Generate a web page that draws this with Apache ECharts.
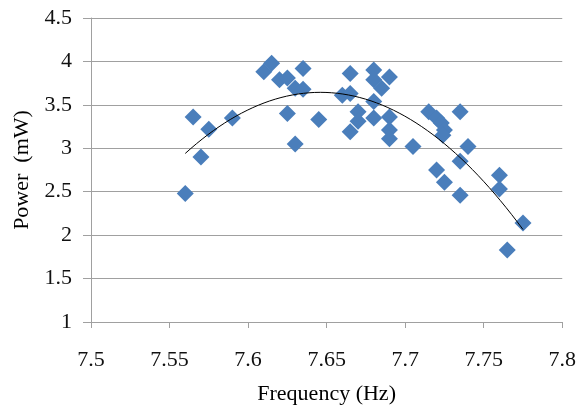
<!DOCTYPE html>
<html>
<head>
<meta charset="utf-8">
<script src="https://cdn.jsdelivr.net/npm/echarts@6/dist/echarts.min.js"></script>
<style>
html,body{margin:0;padding:0;background:#fff;}
#c{width:579px;height:410px;}
</style>
</head>
<body>
<div id="c"></div>
<script>
// Frequency (Hz) values of each measurement
var freq = [7.56, 7.565, 7.57, 7.575, 7.59, 7.61, 7.615, 7.62, 7.625, 7.635,
            7.63, 7.635, 7.625, 7.645, 7.63, 7.665, 7.66, 7.665, 7.665, 7.68,
            7.68, 7.69, 7.685, 7.68, 7.67, 7.67, 7.68, 7.69, 7.69, 7.69,
            7.705, 7.715, 7.72, 7.723, 7.725, 7.724, 7.735, 7.74, 7.735, 7.72,
            7.725, 7.735, 7.76, 7.76, 7.775, 7.765];
// Power (mW) values of each measurement
var power = [2.48, 3.36, 2.90, 3.22, 3.35, 3.88, 3.98, 3.79, 3.81, 3.92,
             3.69, 3.68, 3.40, 3.33, 3.05, 3.86, 3.61, 3.63, 3.19, 3.90,
             3.79, 3.82, 3.69, 3.54, 3.42, 3.31, 3.35, 3.36, 3.21, 3.11,
             3.02, 3.42, 3.35, 3.29, 3.21, 3.15, 3.42, 3.02, 2.85, 2.75,
             2.61, 2.46, 2.69, 2.53, 2.14, 1.83];
var xTicks = ['7.5', '7.55', '7.6', '7.65', '7.7', '7.75', '7.8'];
var yTicks = ['1', '1.5', '2', '2.5', '3', '3.5', '4', '4.5'];

var pts = freq.map(function (f, i) { return [f, power[i]]; });

// Quadratic least-squares trend line (like Excel's polynomial trendline)
function quadFit(xs, ys) {
  var n = xs.length, x0 = 0;
  xs.forEach(function (v) { x0 += v; }); x0 /= n;
  var S = [0,0,0,0,0], T = [0,0,0];
  for (var i = 0; i < n; i++) {
    var u = xs[i] - x0, p = 1;
    for (var k = 0; k < 5; k++) { S[k] += p; if (k < 3) T[k] += p * ys[i]; p *= u; }
  }
  var A = [[S[0],S[1],S[2],T[0]],[S[1],S[2],S[3],T[1]],[S[2],S[3],S[4],T[2]]];
  for (var c = 0; c < 3; c++) {
    for (var r = c + 1; r < 3; r++) {
      var f = A[r][c] / A[c][c];
      for (var j = c; j < 4; j++) A[r][j] -= f * A[c][j];
    }
  }
  var b = [0,0,0];
  for (var r2 = 2; r2 >= 0; r2--) {
    var s = A[r2][3];
    for (var j2 = r2 + 1; j2 < 3; j2++) s -= A[r2][j2] * b[j2];
    b[r2] = s / A[r2][r2];
  }
  return function (x) { var u = x - x0; return b[0] + b[1] * u + b[2] * u * u; };
}
var fit = quadFit(freq, power);
var xmin = Math.min.apply(null, freq), xmax = Math.max.apply(null, freq);
var trend = [];
for (var i = 0; i <= 60; i++) {
  var x = xmin + (xmax - xmin) * i / 60;
  trend.push([x, fit(x)]);
}

var font = '"Liberation Serif", "Times New Roman", Times, serif';
var chart = echarts.init(document.getElementById('c'), null, {renderer: 'canvas'});
chart.setOption({
  animation: false,
  backgroundColor: '#fff',
  grid: {left: 91, right: 16, top: 18, bottom: 88},
  xAxis: {
    type: 'value', min: 7.5, max: 7.8, interval: 0.05,
    name: 'Frequency (Hz)', nameLocation: 'middle', nameGap: 61,
    nameTextStyle: {fontFamily: font, fontSize: 22, color: '#000'},
    axisLine: {show: true, lineStyle: {color: '#a0a0a0', width: 1}},
    axisTick: {show: true, length: 6, lineStyle: {color: '#a0a0a0'}},
    axisLabel: {fontFamily: font, fontSize: 22, color: '#111', margin: 27,
      formatter: function (v) { var idx = Math.round((v - 7.5) / 0.05); return xTicks[idx]; }},
    splitLine: {show: false}
  },
  yAxis: {
    type: 'value', min: 1, max: 4.5, interval: 0.5,
    name: 'Power  (mW)', nameLocation: 'middle', nameGap: 58,
    nameTextStyle: {fontFamily: font, fontSize: 22, color: '#000'},
    axisLine: {show: true, lineStyle: {color: '#a0a0a0', width: 1}},
    axisTick: {show: true, length: 8, lineStyle: {color: '#a0a0a0'}},
    axisLabel: {fontFamily: font, fontSize: 22, color: '#111', margin: 19,
      formatter: function (v) { var idx = Math.round((v - 1) / 0.5); return yTicks[idx]; }},
    splitLine: {show: true, lineStyle: {color: '#a0a0a0', width: 1}}
  },
  series: [
    {
      type: 'scatter', data: pts, symbol: 'diamond', symbolSize: 17,
      itemStyle: {color: '#4a7ebb', opacity: 1}, z: 2
    },
    {
      type: 'line', data: trend, showSymbol: false, symbol: 'none',
      lineStyle: {color: '#000', width: 1}, z: 3
    }
  ]
});
</script>
</body>
</html>
